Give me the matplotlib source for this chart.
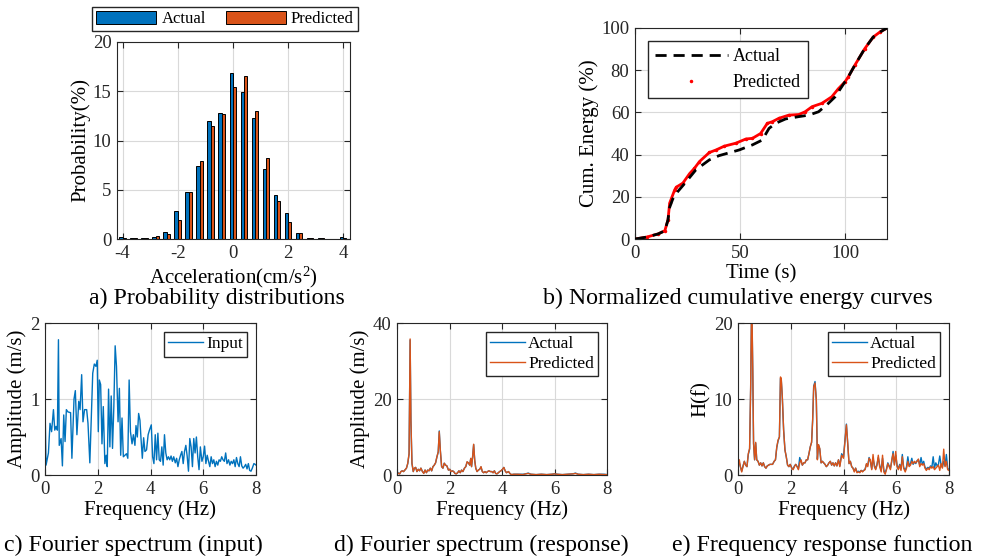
import matplotlib
matplotlib.use("Agg")
import matplotlib.pyplot as plt

# a) histogram of acceleration (bin centres, % probability)
a_centers = [-4.0, -3.6, -3.2, -2.8, -2.4, -2.0, -1.6, -1.2, -0.8, -0.4, 0.0,
             0.4, 0.8, 1.2, 1.6, 2.0, 2.4, 2.8, 3.2, 3.6, 4.0]
a_actual = [0.2, 0.1, 0.15, 0.2, 0.7, 2.8, 4.75, 7.4, 12.0, 12.8, 16.9,
            14.9, 12.3, 7.1, 4.5, 2.6, 0.65, 0.1, 0.1, 0.05, 0.2]
a_pred = [0.1, 0.15, 0.1, 0.3, 0.5, 1.95, 4.8, 7.9, 11.5, 12.7, 15.4,
          16.5, 13.0, 8.2, 3.85, 1.7, 0.65, 0.15, 0.1, 0.05, 0.1]

# b) normalized cumulative energy
b_time_pred = [0, 5.5, 11, 14.2, 15.7, 16.5, 18.9, 19.7, 22.8, 26, 28.3, 30.7,
               35.4, 38.6, 42.5, 48, 52.8, 55.9, 59.8, 63, 65.4, 68.5, 73.2,
               78, 81, 84.3, 89, 93.7, 96.9, 100, 101.6, 104.7, 109.4, 113.4,
               116.5, 120]
b_pred = [0, 0.9, 2.4, 3.9, 9, 17, 23.3, 24.6, 26.5, 31, 33.5, 36.7,
          41, 42.2, 44, 45.4, 47.4, 47.7, 50, 54.8, 55.6, 57.2, 58.7,
          59, 60.3, 62.7, 64.3, 67.4, 71.3, 74.5, 76.9, 82.4, 90.2, 95.7,
          98, 100]
b_time_act = [0, 5.5, 11, 14.2, 15.7, 16.5, 18, 19.7, 24.4, 29, 35.4, 40,
              49.6, 55.9, 60.6, 63.8, 66.9, 71.7, 78, 82.7, 87.4, 92.1, 95.3,
              98.4, 100, 101.6, 104.7, 109.4, 113.4, 116.5, 120]
b_act = [0, 0.9, 2.4, 3.9, 9, 15, 19, 21.7, 27.2, 32.8, 37.5, 39.5,
         42.2, 44.6, 46.9, 52.4, 54.8, 56.9, 58, 58.7, 60.3, 64.3, 67.4,
         72.1, 74.5, 76.9, 82.4, 90.2, 95.7, 98, 100]

# c) Fourier spectrum of input
c_freq = [0.00, 0.04, 0.13, 0.19, 0.25, 0.32, 0.37, 0.42, 0.47, 0.51,
          0.54, 0.61, 0.66, 0.71, 0.76, 0.81, 0.87, 0.97, 1.02, 1.10,
          1.15, 1.21, 1.28, 1.33, 1.39, 1.44, 1.50, 1.58, 1.63, 1.70,
          1.81, 1.87, 1.93, 1.98, 2.02, 2.06, 2.11, 2.16, 2.21, 2.27,
          2.32, 2.36, 2.41, 2.46, 2.51, 2.56, 2.61, 2.66, 2.71, 2.77,
          2.82, 2.87, 2.92, 2.97, 3.03, 3.09, 3.14, 3.19, 3.24, 3.30,
          3.35, 3.41, 3.45, 3.50, 3.55, 3.60, 3.64, 3.69, 3.74, 3.79,
          3.85, 3.91,
          3.96, 4.03, 4.08, 4.13, 4.18, 4.23, 4.28, 4.33, 4.38, 4.43,
          4.48, 4.53, 4.58, 4.63, 4.68, 4.73, 4.78, 4.83, 4.88, 4.94,
          4.99, 5.04, 5.09, 5.14, 5.19, 5.24, 5.29, 5.34, 5.39, 5.44,
          5.49, 5.54, 5.59, 5.64, 5.69, 5.74, 5.79, 5.84, 5.89, 5.95,
          6.00, 6.05, 6.10, 6.15, 6.20, 6.25, 6.30, 6.35, 6.40, 6.45,
          6.50, 6.55, 6.60, 6.65, 6.70, 6.75, 6.80, 6.85, 6.90, 6.96,
          7.01, 7.06, 7.11, 7.16, 7.21, 7.26, 7.31, 7.36, 7.41, 7.46,
          7.51, 7.56, 7.61, 7.66, 7.71, 7.76, 7.81, 7.86, 7.92, 7.97,
          8.00]
c_amp = [0.92, 0.13, 0.29, 0.68, 0.57, 0.86, 0.59, 0.64, 0.59, 1.78,
         0.39, 0.48, 0.12, 0.79, 0.44, 0.86, 0.83, 0.82, 0.22, 1.00,
         1.11, 0.53, 0.97, 0.86, 1.32, 0.70, 0.86, 0.86, 0.68, 0.16,
         1.34, 1.46, 1.43, 1.51, 0.57, 1.25, 1.19, 0.41, 0.90, 0.15,
         0.26, 0.11, 1.13, 0.37, 1.04, 0.35, 0.90, 1.70, 1.43, 0.70,
         1.14, 0.26, 0.75, 0.24, 0.26, 0.28, 0.22, 1.25, 0.57, 0.41,
         0.53, 0.39, 0.65, 0.50, 0.81, 0.72, 0.48, 0.22, 0.49, 0.31,
         0.33, 0.53,
         0.59, 0.66, 0.24, 0.15, 0.53, 0.20, 0.55, 0.20, 0.18, 0.37,
         0.13, 0.53, 0.29, 0.20, 0.24, 0.20, 0.25, 0.18, 0.24, 0.16,
         0.22, 0.11, 0.20, 0.26, 0.31, 0.15, 0.31, 0.39, 0.25, 0.05,
         0.48, 0.37, 0.11, 0.48, 0.29, 0.50, 0.24, 0.07, 0.37, 0.18,
         0.24, 0.38, 0.15, 0.26, 0.18, 0.11, 0.24, 0.15, 0.20, 0.11,
         0.18, 0.13, 0.20, 0.18, 0.24, 0.20, 0.18, 0.29, 0.15, 0.20,
         0.13, 0.18, 0.15, 0.20, 0.11, 0.23, 0.15, 0.11, 0.24, 0.12,
         0.09, 0.11, 0.14, 0.08, 0.15, 0.06, 0.05, 0.09, 0.15, 0.14,
         0.13]

# d) Fourier spectrum of response
d_freq = [0.00, 0.05, 0.10, 0.15, 0.20, 0.25, 0.30, 0.36, 0.41, 0.46,
          0.50, 0.53, 0.57, 0.62, 0.66, 0.71, 0.76, 0.81, 0.86, 0.91,
          0.97, 1.02, 1.07, 1.12, 1.17, 1.22, 1.27, 1.32, 1.37, 1.42,
          1.47, 1.52, 1.57, 1.61, 1.65, 1.70, 1.75, 1.80, 1.85, 1.90,
          1.96, 2.01, 2.06, 2.11, 2.16, 2.21, 2.26, 2.31, 2.36, 2.41,
          2.46, 2.51, 2.57, 2.62, 2.67, 2.72, 2.77, 2.81, 2.84, 2.88,
          2.92, 2.96, 3.00, 3.05, 3.10, 3.15, 3.20, 3.25, 3.30, 3.35,
          3.40, 3.45, 3.50, 3.56, 3.61, 3.66, 3.71, 3.76, 3.81, 3.86,
          3.91, 3.96, 4.02, 4.07, 4.12, 4.17, 4.25, 4.30, 4.36, 4.45,
          4.6, 4.8, 4.9, 5.0, 5.1, 5.3, 5.5, 5.7, 5.9, 6.0,
          6.1, 6.3, 6.5, 6.7, 6.8, 6.9, 7.1, 7.3, 7.5, 7.7,
          7.9, 8.0]
d_pred = [0.9, 0.4, 0.3, 0.9, 1.1, 0.9, 1.3, 1.8, 3.1, 5.7,
          35.8, 14.5, 3.1, 0.9, 1.8, 2.0, 0.9, 1.5, 1.1, 1.8,
          0.9, 0.4, 1.3, 0.6, 1.3, 1.1, 1.8, 1.1, 2.2, 2.6,
          3.2, 4.8, 6.1, 11.4, 6.6, 2.2, 1.8, 3.1, 2.6, 2.4,
          1.3, 1.5, 0.9, 1.1, 0.9, 0.4, 0.3, 0.6, 1.1, 0.6,
          1.3, 0.9, 1.8, 2.2, 3.5, 3.2, 2.6, 4.4, 2.2, 4.8,
          8.1, 3.9, 1.8, 0.9, 1.3, 1.5, 2.2, 0.9, 0.6, 0.9,
          0.6, 0.9, 1.1, 0.9, 0.9, 0.6, 1.1, 0.4, 0.3, 0.6,
          0.9, 1.1, 1.5, 2.0, 1.1, 0.6, 0.9, 0.4, 0.1, 0.2,
          0.2, 0.1, 0.3, 0.4, 0.2, 0.1, 0.2, 0.1, 0.2, 0.3,
          0.2, 0.1, 0.2, 0.3, 0.4, 0.2, 0.1, 0.2, 0.1, 0.2,
          0.1, 0.1]
d_actual = [0.9, 0.5, 0.3, 0.9, 1.1, 0.9, 1.3, 1.8, 3.0, 5.5,
            35.5, 14.2, 3.0, 0.9, 1.7, 2.0, 0.9, 1.5, 1.1, 1.8,
            0.9, 0.5, 1.3, 0.6, 1.3, 1.1, 1.8, 1.1, 2.2, 2.6,
            3.2, 4.7, 6.0, 11.6, 6.5, 2.2, 1.8, 3.1, 2.6, 2.4,
            1.3, 1.5, 0.9, 1.1, 0.9, 0.4, 0.3, 0.6, 1.1, 0.6,
            1.3, 0.9, 1.8, 2.2, 3.4, 3.2, 2.6, 4.3, 2.2, 4.7,
            8.0, 3.9, 1.8, 0.9, 1.3, 1.5, 2.1, 0.9, 0.6, 0.9,
            0.6, 0.9, 1.1, 0.9, 0.9, 0.6, 1.1, 0.4, 0.3, 0.6,
            0.9, 1.1, 1.5, 2.0, 1.1, 0.6, 0.9, 0.4, 0.1, 0.2,
            0.2, 0.2, 0.3, 0.5, 0.2, 0.1, 0.2, 0.1, 0.2, 0.3,
            0.2, 0.1, 0.2, 0.3, 0.5, 0.2, 0.1, 0.2, 0.1, 0.2,
            0.2, 0.1]

# e) frequency response function
e_freq = [0.00, 0.05, 0.09, 0.14, 0.19, 0.24, 0.29, 0.34, 0.39, 0.44,
          0.48, 0.52, 0.56, 0.59, 0.63, 0.67, 0.71, 0.76, 0.81, 0.86,
          0.91, 0.96, 1.01, 1.06, 1.11, 1.16, 1.21, 1.26, 1.31, 1.37,
          1.42, 1.47, 1.52, 1.57, 1.61, 1.64, 1.68, 1.73, 1.78, 1.83,
          1.88, 1.93, 1.98, 2.04, 2.09, 2.14, 2.19, 2.24, 2.29, 2.34,
          2.39, 2.44, 2.49, 2.54, 2.59, 2.64, 2.69, 2.74, 2.79, 2.83,
          2.87, 2.92, 2.97, 3.01, 3.05, 3.10, 3.15, 3.20, 3.25, 3.30,
          3.35, 3.40, 3.45, 3.50, 3.55, 3.60, 3.65, 3.70, 3.75, 3.81,
          3.86, 3.93, 4.00, 4.06, 4.11, 4.16, 4.21, 4.26, 4.31, 4.36,
          4.41, 4.46, 4.51, 4.57, 4.62, 4.67, 4.72, 4.77, 4.82, 4.87,
          4.92, 4.97, 5.02, 5.07, 5.12, 5.17, 5.22, 5.27, 5.32, 5.37,
          5.43, 5.48, 5.53, 5.58, 5.63, 5.68, 5.73, 5.78, 5.83, 5.88,
          5.93, 5.98, 6.03, 6.08, 6.13, 6.18, 6.23, 6.28, 6.34, 6.39,
          6.44, 6.49, 6.54, 6.59, 6.64, 6.69, 6.74, 6.79, 6.84, 6.89,
          6.94, 6.99, 7.04, 7.09, 7.14, 7.20, 7.25, 7.30, 7.35, 7.40,
          7.45, 7.50, 7.55, 7.60, 7.65, 7.70, 7.75, 7.80, 7.85, 7.90,
          7.95, 8.00]
e_pred = [0.9, 2.0, 1.1, 0.4, 1.1, 1.8, 1.3, 1.1, 2.8, 3.5,
          11.6, 24.0, 13.8, 4.2, 2.0, 4.3, 2.0, 1.8, 1.3, 1.6,
          1.2, 1.6, 1.1, 0.9, 1.2, 1.3, 1.4, 1.4, 1.4, 1.8,
          2.0, 3.7, 4.6, 5.0, 12.9, 12.7, 10.3, 5.9, 3.3, 2.4,
          1.3, 1.1, 1.4, 0.9, 0.7, 1.1, 1.4, 1.1, 0.7, 1.6,
          2.0, 1.3, 1.6, 1.6, 2.0, 2.0, 2.8, 3.7, 4.3, 7.2,
          11.6, 12.1, 9.9, 2.0, 4.0, 3.5, 1.6, 1.8, 1.6, 1.4,
          1.1, 1.3, 1.6, 1.8, 1.3, 1.6, 1.2, 1.6, 1.2, 2.0,
          1.1, 2.6, 2.2, 4.6, 6.6, 4.2, 1.5, 1.8, 1.1, 0.9,
          0.4, 0.9, 0.3, 0.4, 0.3, 0.6, 0.4, 0.6, 0.7, 1.5,
          1.1, 2.2, 2.0, 0.7, 2.7, 1.1, 0.7, 1.3, 2.6, 1.1,
          0.4, 2.6, 0.4, 0.1, 0.7, 1.5, 1.1, 0.7, 2.0, 2.8,
          1.3, 3.1, 1.1, 0.7, 1.3, 0.6, 2.4, 0.9, 0.4, 0.9,
          1.8, 1.1, 1.3, 1.8, 1.5, 1.8, 1.6, 1.8, 2.1, 1.1,
          1.5, 1.3, 1.5, 0.9, 0.6, 0.9, 0.7, 1.1, 0.9, 1.1,
          0.7, 0.9, 1.1, 1.3, 0.6, 1.5, 0.9, 3.4, 1.1, 1.8,
          0.7, 0.6]
e_actual = [2.3, 1.6, 1.1, 0.5, 1.2, 1.8, 1.3, 1.1, 2.7, 3.4,
            11.4, 23.5, 13.5, 4.1, 2.0, 4.2, 2.0, 1.8, 1.3, 1.6,
            1.2, 1.6, 1.1, 0.9, 1.2, 1.3, 1.4, 1.4, 1.4, 1.8,
            2.0, 3.6, 4.5, 5.0, 12.7, 12.5, 10.2, 5.9, 3.3, 2.4,
            1.3, 1.1, 1.4, 0.9, 0.8, 1.2, 1.4, 1.1, 0.8, 2.3,
            1.8, 1.3, 1.6, 1.6, 2.0, 2.0, 2.8, 3.7, 4.3, 7.2,
            11.7, 12.3, 9.8, 2.1, 4.0, 3.4, 1.6, 1.8, 1.6, 1.4,
            1.1, 1.3, 1.6, 1.8, 1.3, 1.6, 1.2, 1.6, 1.2, 2.0,
            1.2, 2.8, 2.4, 4.7, 6.7, 4.1, 1.5, 1.8, 1.1, 0.9,
            0.5, 0.9, 0.4, 0.5, 0.4, 0.6, 0.5, 0.6, 0.8, 1.4,
            1.3, 2.3, 1.7, 0.8, 2.2, 1.3, 0.8, 1.4, 2.3, 1.3,
            0.6, 2.2, 0.6, 0.3, 0.8, 1.6, 1.2, 0.9, 1.8, 3.1,
            1.4, 2.6, 1.3, 0.8, 1.4, 0.8, 2.7, 1.0, 0.6, 1.1,
            2.4, 1.2, 1.5, 2.2, 1.4, 1.7, 1.5, 1.9, 2.0, 1.3,
            2.3, 1.4, 1.8, 1.0, 0.8, 1.0, 0.9, 1.2, 1.0, 2.4,
            0.9, 1.6, 1.2, 1.4, 2.5, 1.3, 1.0, 1.8, 1.2, 2.7,
            0.9, 0.7]

BLUE = "#0072BD"
ORANGE = "#D95319"
AXC = "#262626"
TICK_FS = 13.5
LABEL_FS = 15
CAP_FS = 17.2


def style_axes(ax):
    """MATLAB-like box, inward ticks on all sides and light grid"""
    for s in ax.spines.values():
        s.set_color(AXC)
        s.set_linewidth(0.8)
    ax.tick_params(direction="in", top=True, right=True, length=4,
                   width=0.8, colors=AXC, labelcolor=AXC,
                   labelsize=TICK_FS, pad=4)
    ax.grid(True, color="#d9d9d9", linewidth=0.8)
    ax.set_axisbelow(True)


def add_box(px):
    """px = (left, top, right, bottom) in pixels of the 982x560 figure"""
    l, t, r, b = px
    return fig.add_axes([l / 982, 1 - b / 560, (r - l) / 982, (b - t) / 560])


plt.rcParams["font.family"] = ["Liberation Serif", "DejaVu Serif"]
plt.rcParams["axes.unicode_minus"] = False
plt.rcParams["mathtext.fontset"] = "custom"
plt.rcParams["mathtext.rm"] = "Liberation Serif"
plt.rcParams["mathtext.it"] = "Liberation Serif:italic"

fig = plt.figure(figsize=(9.82, 5.60), dpi=100)
leg_kw = dict(fancybox=False, edgecolor=AXC, framealpha=1)

# ---- a) probability distributions
ax = add_box((117, 42, 350, 239))
w = 0.12
ax.bar([x - w / 2 for x in a_centers], a_actual, width=w, color=BLUE,
       edgecolor="black", linewidth=0.7, label="Actual")
ax.bar([x + w / 2 for x in a_centers], a_pred, width=w, color=ORANGE,
       edgecolor="black", linewidth=0.7, label="Predicted")
ax.set_xlim(-4.2, 4.25)
ax.set_ylim(0, 20)
ax.set_xticks([-4, -2, 0, 2, 4])
ax.set_yticks([0, 5, 10, 15, 20])
style_axes(ax)
ax.set_xlabel("Acceleration(cm/s$^2$)", fontsize=LABEL_FS, labelpad=2)
ax.set_ylabel("Probability(%)", fontsize=LABEL_FS, labelpad=2)
fig.legend(loc="center", bbox_to_anchor=(225 / 982, 1 - 19 / 560), ncol=2,
           handlelength=3.6, handleheight=0.8, handletextpad=0.3,
           columnspacing=1.2, borderpad=0.25, fontsize=12, **leg_kw)

# ---- b) cumulative energy
ax = add_box((635, 28, 887, 239))
ax.plot(b_time_act, b_act, color="black", linestyle=(0, (4, 2.5)),
        linewidth=2, label="Actual", zorder=3)
ax.plot(b_time_pred, b_pred, color="red", linewidth=2, zorder=2)
ax.plot(b_time_pred, b_pred, ".", color="red", markersize=3,
        label="Predicted", zorder=2)
ax.set_xlim(0, 120)
ax.set_ylim(0, 100)
ax.set_xticks([0, 50, 100])
ax.set_yticks([0, 20, 40, 60, 80, 100])
style_axes(ax)
ax.set_xlabel("Time (s)", fontsize=LABEL_FS, labelpad=2)
ax.set_ylabel("Cum. Energy (%)", fontsize=LABEL_FS, labelpad=2)
ax.legend(loc="upper left", bbox_to_anchor=(0.052, 0.94), borderaxespad=0,
          handlelength=4.0, handletextpad=0.3, borderpad=0.4,
          fontsize=13, **leg_kw)

# ---- c) input spectrum
ax = add_box((45, 323, 256, 475))
ax.plot(c_freq, c_amp, color=BLUE, linewidth=1, label="Input")
ax.set_xlim(0, 8)
ax.set_ylim(0, 2)
ax.set_xticks([0, 2, 4, 6, 8])
ax.set_yticks([0, 1, 2])
style_axes(ax)
ax.set_xlabel("Frequency (Hz)", fontsize=LABEL_FS, labelpad=2)
ax.set_ylabel("Amplitude (m/s)", fontsize=LABEL_FS, labelpad=2)
ax.legend(loc="upper right", handlelength=2.0, handletextpad=0.2,
          borderpad=0.25, fontsize=12.5, **leg_kw)

# ---- d) response spectrum
ax = add_box((397, 323, 607, 475))
ax.plot(d_freq, d_actual, color=BLUE, linewidth=1, label="Actual")
ax.plot(d_freq, d_pred, color=ORANGE, linewidth=1, label="Predicted")
ax.set_xlim(0, 8)
ax.set_ylim(0, 40)
ax.set_xticks([0, 2, 4, 6, 8])
ax.set_yticks([0, 20, 40])
style_axes(ax)
ax.set_xlabel("Frequency (Hz)", fontsize=LABEL_FS, labelpad=2)
ax.set_ylabel("Amplitude (m/s)", fontsize=LABEL_FS, labelpad=2)
ax.legend(loc="upper right", handlelength=2.0, handletextpad=0.2,
          borderpad=0.25, labelspacing=0.2, fontsize=12.5, **leg_kw)

# ---- e) frequency response function
ax = add_box((738, 323, 949, 475))
ax.plot(e_freq, e_actual, color=BLUE, linewidth=1, label="Actual")
ax.plot(e_freq, e_pred, color=ORANGE, linewidth=1, label="Predicted")
ax.set_xlim(0, 8)
ax.set_ylim(0, 20)
ax.set_xticks([0, 2, 4, 6, 8])
ax.set_yticks([0, 10, 20])
style_axes(ax)
ax.set_xlabel("Frequency (Hz)", fontsize=LABEL_FS, labelpad=2)
ax.set_ylabel("H(f)", fontsize=LABEL_FS, labelpad=2)
ax.legend(loc="upper right", handlelength=2.0, handletextpad=0.2,
          borderpad=0.25, labelspacing=0.2, fontsize=12.5, **leg_kw)

# ---- captions
captions = ["a) Probability distributions",
            "b) Normalized cumulative energy curves",
            "c) Fourier spectrum (input)",
            "d) Fourier spectrum (response)",
            "e) Frequency response function"]
cap_pos = [(217, 298), (738, 298), (133, 545), (481, 545), (822, 545)]
for txt, (x, y) in zip(captions, cap_pos):
    fig.text(x / 982, 1 - y / 560, txt, ha="center", va="center",
             fontsize=CAP_FS, color="black")

fig.savefig("out.png", dpi=100)
